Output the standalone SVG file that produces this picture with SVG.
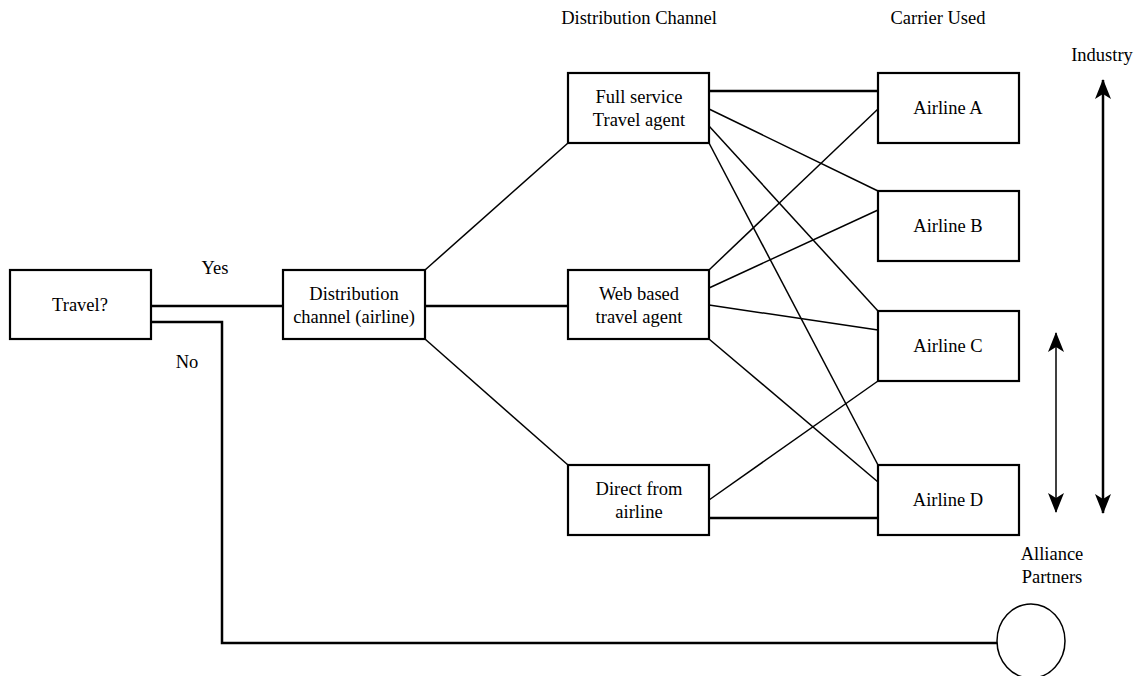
<svg xmlns="http://www.w3.org/2000/svg" width="1140" height="676" viewBox="0 0 1140 676">
<style>
.box{fill:#fff;stroke:#000;stroke-width:2.2}
.t{font-family:"Liberation Serif",serif;font-size:18.5px;fill:#000;text-anchor:middle}
.thin{stroke:#000;stroke-width:1.5;fill:none}
.thick{stroke:#000;stroke-width:2.5;fill:none}
</style>
<defs>
<marker id="ah" viewBox="0 0 20 18" refX="19" refY="9" markerWidth="20" markerHeight="18" markerUnits="userSpaceOnUse" orient="auto-start-reverse">
<path d="M0,1 L20,9 L0,17 L5,9 Z" fill="#000"/>
</marker>
</defs>
<rect width="1140" height="676" fill="#fff"/>
<g id="connectors">
<line class="thick" x1="151" y1="306" x2="283" y2="306"/>
<polyline class="thick" points="151,322 222,322 222,643 997,643"/>
<line class="thin" x1="425" y1="270" x2="568" y2="143"/>
<line class="thick" x1="425" y1="306" x2="568" y2="306"/>
<line class="thin" x1="425" y1="339" x2="568" y2="465"/>
<line class="thick" x1="709" y1="91" x2="878" y2="91"/>
<line class="thin" x1="709" y1="109" x2="878" y2="191"/>
<line class="thin" x1="709" y1="126" x2="878" y2="311"/>
<line class="thin" x1="709" y1="143" x2="878" y2="465"/>
<line class="thin" x1="709" y1="270" x2="878" y2="109"/>
<line class="thin" x1="709" y1="288" x2="878" y2="210"/>
<line class="thin" x1="709" y1="305" x2="878" y2="330"/>
<line class="thin" x1="709" y1="339" x2="878" y2="482"/>
<line class="thin" x1="709" y1="500" x2="878" y2="381"/>
<line class="thick" x1="709" y1="518" x2="878" y2="518"/>
<line class="thick" x1="1103" y1="80" x2="1103" y2="513" marker-start="url(#ah)" marker-end="url(#ah)"/>
<line class="thin" x1="1056" y1="333" x2="1056" y2="512" stroke-width="2" marker-start="url(#ah)" marker-end="url(#ah)"/>
</g>
<g id="travel"><rect class="box" x="10" y="270" width="141" height="69"/><text class="t" x="80" y="311">Travel?</text></g>
<g id="distchannel"><rect class="box" x="283" y="270" width="142" height="69"/><text class="t" x="354" y="300">Distribution</text><text class="t" x="354" y="323">channel (airline)</text></g>
<g id="fullservice"><rect class="box" x="568" y="73" width="141" height="70"/><text class="t" x="639" y="103">Full service</text><text class="t" x="639" y="126">Travel agent</text></g>
<g id="webbased"><rect class="box" x="568" y="270" width="141" height="69"/><text class="t" x="639" y="300">Web based</text><text class="t" x="639" y="323">travel agent</text></g>
<g id="direct"><rect class="box" x="568" y="465" width="141" height="70"/><text class="t" x="639" y="495">Direct from</text><text class="t" x="639" y="518">airline</text></g>
<g id="airlineA"><rect class="box" x="878" y="73" width="141" height="70"/><text class="t" x="948" y="114">Airline A</text></g>
<g id="airlineB"><rect class="box" x="878" y="191" width="141" height="70"/><text class="t" x="948" y="232">Airline B</text></g>
<g id="airlineC"><rect class="box" x="878" y="311" width="141" height="70"/><text class="t" x="948" y="352">Airline C</text></g>
<g id="airlineD"><rect class="box" x="878" y="465" width="141" height="70"/><text class="t" x="948" y="506">Airline D</text></g>
<g id="circle"><ellipse cx="1031" cy="641" rx="34" ry="37" fill="#fff" stroke="#000" stroke-width="1.5"/></g>
<g id="labels">
<text class="t" x="215" y="274">Yes</text>
<text class="t" x="187" y="368">No</text>
<text class="t" x="639" y="24">Distribution Channel</text>
<text class="t" x="938" y="24">Carrier Used</text>
<text class="t" x="1102" y="61">Industry</text>
<text class="t" x="1052" y="560">Alliance</text>
<text class="t" x="1052" y="583">Partners</text>
</g>
</svg>
